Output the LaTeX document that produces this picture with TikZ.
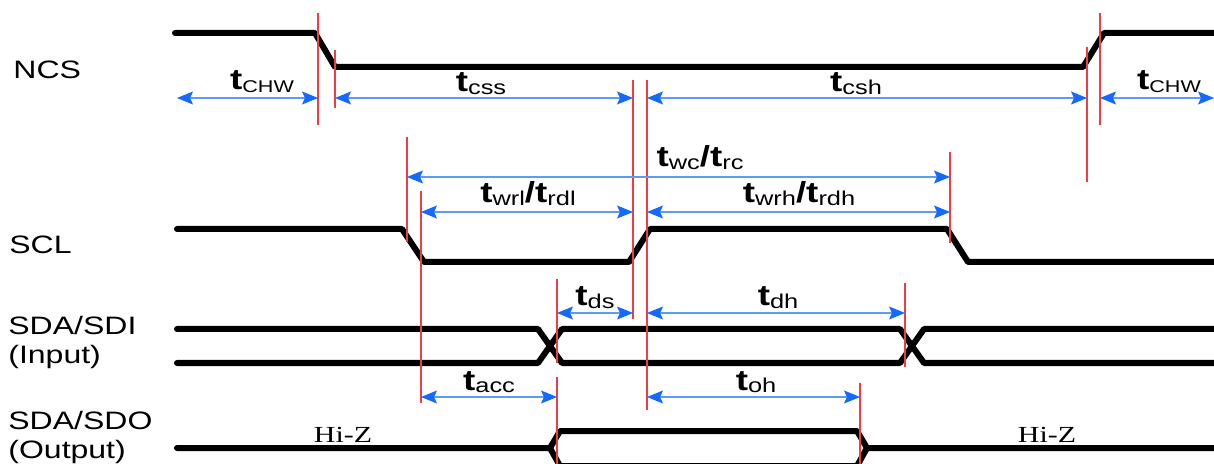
\documentclass[tikz,border=0pt]{standalone}
\usepackage{fontspec}
\setmainfont[FakeStretch=1.27]{Liberation Sans}
\newfontfamily\hizfont[FakeStretch=1.3]{Liberation Serif}
\usetikzlibrary{arrows.meta}
\definecolor{shaftblue}{RGB}{95,155,240}
\definecolor{tipblue}{RGB}{20,105,255}
\definecolor{markred}{RGB}{236,62,72}
% timing label: big t with a lowered subscript
\newcommand{\tsub}[2][10]{{\fontsize{14.5}{16}\bfseries t}\raisebox{-1.5pt}{\fontsize{#1}{11}\selectfont #2}}
\newcommand{\tsl}{{\fontsize{14.5}{16}\bfseries /}}

\begin{document}
\begin{tikzpicture}[x=0.5pt,y=-0.5pt,
  signal/.style={line width=3pt,line join=round,line cap=round},
  marker/.style={markred,line width=0.6pt},
  span/.style={shaftblue,line width=0.6pt,
    {Stealth[length=8pt,width=6.5pt,inset=1.5pt,color=tipblue]}-{Stealth[length=8pt,width=6.5pt,inset=1.5pt,color=tipblue]}},
  signame/.style={anchor=west,align=left,inner sep=0pt,font=\fontsize{12.6}{14.5}\selectfont},
  tlabel/.style={anchor=base,inner sep=0pt},
  hiz/.style={anchor=base,inner sep=0pt,font=\hizfont\fontsize{11.5}{13}\selectfont}]
\useasboundingbox (0,0) rectangle (1214,464);
% Signal names
\node[signame] (ncs) at (13,70) {NCS};
\node[signame] (scl) at (9,245) {SCL};
\node[signame] (sdi) at (8,342) {SDA/SDI\\(Input)};
\node[signame] (sdo) at (8,437) {SDA/SDO\\(Output)};
% Draw the waveforms
\draw[signal] (175,33) -- (315,33) -- (335,67) -- (1083,67) -- (1104,33) -- (1220,33);
\draw[signal] (177,229) -- (402,229) -- (424,262) -- (629,262) -- (650,229) -- (947,229) -- (968,262) -- (1220,262);
\draw[signal] (177,329) -- (538,329) -- (562,363) -- (900,363) -- (924,329) -- (1220,329);
\draw[signal] (177,363) -- (538,363) -- (562,329) -- (900,329) -- (924,363) -- (1220,363);
\draw[signal] (177,448) -- (550,448) -- (560,431) -- (857,431) -- (867,448) -- (1220,448);
\draw[signal] (550,448) -- (560,466) -- (857,466) -- (867,448);
\node[hiz] (hiza) at (343,442) {Hi-Z};
\node[hiz] (hizb) at (1047,442) {Hi-Z};
% Draw the red reference lines
\draw[marker] (318,13) -- (318,125);
\draw[marker] (335,50) -- (335,108);
\draw[marker] (633,80) -- (633,319);
\draw[marker] (647,80) -- (647,410);
\draw[marker] (1087,47) -- (1087,182);
\draw[marker] (1100,13) -- (1100,125);
\draw[marker] (407,137) -- (407,242);
\draw[marker] (421,191) -- (421,403);
\draw[marker] (950,152) -- (950,243);
\draw[marker] (557,279) -- (557,363);
\draw[marker] (557,377) -- (557,466);
\draw[marker] (905,283) -- (905,367);
\draw[marker] (860,383) -- (860,466);
% Draw the timing spans
\draw[span] (177,98) -- (318,98);
\draw[span] (335,98) -- (633,98);
\draw[span] (647,98) -- (1087,98);
\draw[span] (1100,98) -- (1214,98);
\draw[span] (407,177) -- (950,177);
\draw[span] (421,212) -- (633,212);
\draw[span] (647,212) -- (950,212);
\draw[span] (557,313) -- (633,313);
\draw[span] (647,313) -- (905,313);
\draw[span] (421,397) -- (557,397);
\draw[span] (647,397) -- (860,397);
% Timing labels
\node[tlabel] (tchwa) at (262,90) {\tsub[8.5]{CHW}};
\node[tlabel] (tcss) at (481,92) {\tsub{css}};
\node[tlabel] (tcsh) at (856,92) {\tsub{csh}};
\node[tlabel] (tchwb) at (1169,90) {\tsub[8.5]{CHW}};
\node[tlabel] (twc) at (700,167) {\tsub{wc}\tsl\tsub{rc}};
\node[tlabel] (twrl) at (528,203) {\tsub{wrl}\tsl\tsub{rdl}};
\node[tlabel] (twrh) at (799,203) {\tsub{wrh}\tsl\tsub{rdh}};
\node[tlabel] (tds) at (595,306) {\tsub{ds}};
\node[tlabel] (tdh) at (778,306) {\tsub{dh}};
\node[tlabel] (tacc) at (489,390) {\tsub{acc}};
\node[tlabel] (toh) at (756,390) {\tsub{oh}};
\end{tikzpicture}
\end{document}
